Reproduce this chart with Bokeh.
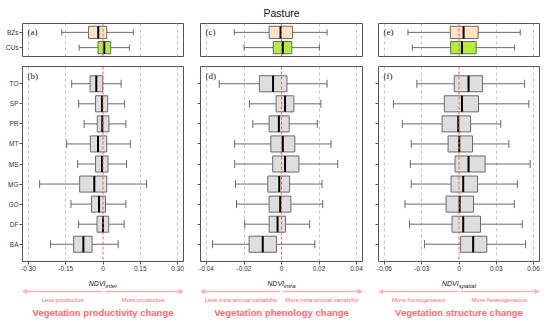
from bokeh.plotting import figure
from bokeh.layouts import column, row
from bokeh.models import Range1d, FixedTicker, Span, Arrow, NormalHead
from bokeh.core.properties import value
from bokeh.embed import file_html
from bokeh.resources import INLINE

# ---------------- data ----------------
top_cats = ["BZs", "CUs"]                       # top to bottom
cats = ["TO", "SP", "PR", "MT", "MS", "MG", "GO", "DF", "BA"]   # top to bottom

# NDVI inter
inter_top_low = [-0.166, -0.096]
inter_top_q1 = [-0.058, -0.020]
inter_top_med = [-0.019, 0.005]
inter_top_q3 = [0.015, 0.031]
inter_top_up = [0.122, 0.106]

inter_low = [-0.126, -0.098, -0.076, -0.146, -0.102, -0.255, -0.129, -0.098, -0.211]
inter_q1 = [-0.052, -0.030, -0.023, -0.051, -0.030, -0.094, -0.046, -0.024, -0.118]
inter_med = [-0.027, -0.004, -0.003, -0.020, -0.004, -0.035, -0.016, 0.000, -0.079]
inter_q3 = [-0.001, 0.019, 0.024, 0.015, 0.020, 0.015, 0.010, 0.023, -0.044]
inter_up = [0.073, 0.087, 0.092, 0.110, 0.095, 0.175, 0.092, 0.085, 0.061]

# NDVI intra
intra_top_low = [-0.0252, -0.0200]
intra_top_q1 = [-0.0066, -0.0044]
intra_top_med = [-0.0005, 0.0007]
intra_top_q3 = [0.0059, 0.0055]
intra_top_up = [0.0243, 0.0202]

intra_low = [-0.0332, -0.0171, -0.0153, -0.0250, -0.0250, -0.0245, -0.0240, -0.0196, -0.0368]
intra_q1 = [-0.0118, -0.0029, -0.0066, -0.0057, -0.0047, -0.0073, -0.0066, -0.0066, -0.0173]
intra_med = [-0.0045, 0.0019, -0.0014, 0.0007, 0.0019, -0.0012, -0.0007, -0.0021, -0.0100]
intra_q3 = [0.0029, 0.0066, 0.0041, 0.0071, 0.0093, 0.0043, 0.0050, 0.0021, -0.0027]
intra_up = [0.0243, 0.0210, 0.0191, 0.0264, 0.0300, 0.0216, 0.0220, 0.0150, 0.0178]

# NDVI spatial
spatial_top_low = [-0.0411, -0.0376]
spatial_top_q1 = [-0.0070, -0.0067]
spatial_top_med = [0.0037, 0.0024]
spatial_top_q3 = [0.0154, 0.0138]
spatial_top_up = [0.0493, 0.0448]

spatial_low = [-0.0339, -0.0528, -0.0456, -0.0384, -0.0392, -0.0384, -0.0435, -0.0398, -0.0278]
spatial_q1 = [-0.0038, -0.0118, -0.0136, -0.0088, -0.0032, -0.0064, -0.0104, -0.0056, 0.0013]
spatial_med = [0.0077, 0.0024, -0.0006, 0.0002, 0.0077, 0.0034, 0.0005, 0.0034, 0.0114]
spatial_q3 = [0.0189, 0.0157, 0.0093, 0.0109, 0.0210, 0.0149, 0.0117, 0.0173, 0.0224]
spatial_up = [0.0528, 0.0562, 0.0336, 0.0402, 0.0573, 0.0469, 0.0445, 0.0509, 0.0536]

inter_ticks = [-0.30, -0.15, 0.0, 0.15, 0.30]
inter_tick_labels = ["-0.30", "-0.15", "0", "0.15", "0.30"]
intra_ticks = [-0.04, -0.02, 0.0, 0.02, 0.04]
intra_tick_labels = ["-0.04", "-0.02", "0", "0.02", "0.04"]
spatial_ticks = [-0.06, -0.03, 0.0, 0.03, 0.06]
spatial_tick_labels = ["-0.06", "-0.03", "0", "0.03", "0.06"]

title_text = "Pasture"
panel_tags = [("(a)", "(b)"), ("(c)", "(d)"), ("(e)", "(f)")]
sub_names = ["inter", "intra", "spatial"]
left_texts = ["Less productive", "Less intra-annual variability", "More homogeneous"]
right_texts = ["More productive", "More intra-annual variability", "More heterogeneous"]
change_texts = ["Vegetation productivity change", "Vegetation phenology change",
                "Vegetation structure change"]

# ---------------- style ----------------
FONT = "Liberation Sans"
SERIF = "Liberation Serif"
FRAME = "#555555"
BOXLINE = "#6a6a6a"
GREY_FILL = "#dedede"
TOP_FILLS = ["#ffe4c4", "#b3ee3a"]
RED = "#f06060"
PINK_TXT = "#ff6a6a"
PINK_ARROW = "#ffb0b0"

col_w = [191, 179, 178]
border_l = [22, 9, 8]
border_r = [8, 8, 9]
sub_junction = [2.5, 2.5, -0.3]
TITLE_H = 21


def style_common(p):
    p.outline_line_color = FRAME
    p.outline_line_width = 1
    p.background_fill_color = "white"
    p.border_fill_color = "white"


def style_axis(ax, standoff=1):
    ax.axis_line_color = None
    ax.major_tick_line_color = FRAME
    ax.major_tick_out = 3
    ax.major_tick_in = 0
    ax.minor_tick_line_color = None
    ax.major_label_text_font = FONT
    ax.major_label_text_font_size = "6.5px"
    ax.major_label_text_color = "#333333"
    ax.major_label_standoff = standoff


def draw_boxes(p, pos, low, q1, med, q3, up, fills):
    lo_p = [y - 0.2 for y in pos]
    hi_p = [y + 0.2 for y in pos]
    p.segment(x0=low, y0=pos, x1=q1, y1=pos, line_color=BOXLINE, line_width=1)
    p.segment(x0=q3, y0=pos, x1=up, y1=pos, line_color=BOXLINE, line_width=1)
    p.segment(x0=low, y0=lo_p, x1=low, y1=hi_p, line_color=BOXLINE, line_width=1)
    p.segment(x0=up, y0=lo_p, x1=up, y1=hi_p, line_color=BOXLINE, line_width=1)
    p.hbar(y=pos, left=q1, right=q3, height=0.8, fill_color=fills,
           line_color=BOXLINE, line_width=1)
    p.add_layout(Span(location=0, dimension="height", line_color=RED,
                      line_dash="3 2", line_width=1))
    p.segment(x0=med, y0=[y - 0.4 for y in pos], x1=med, y1=[y + 0.4 for y in pos],
              line_color="black", line_width=2)


def grid_lines(p, ticks):
    p.xgrid.ticker = FixedTicker(ticks=[t for t in ticks if t != 0])
    p.xgrid.grid_line_color = "#c4c4c4"
    p.xgrid.grid_line_dash = "3 3"
    p.xgrid.grid_line_width = 1
    p.ygrid.grid_line_color = None


def build_column(i, ticks, tick_labels, top_data, data):
    R = ticks[-1] * 1.08
    xr = Range1d(-R, R)
    w = col_w[i]

    # --- top panel (a/c/e)
    pos_top = [2, 1]
    pa = figure(width=w, height=40, x_range=xr, y_range=Range1d(0.42, 2.58),
                output_backend="svg", toolbar_location=None,
                min_border_left=border_l[i], min_border_right=border_r[i],
                min_border_top=2, min_border_bottom=5,
                y_axis_location="left" if i == 0 else None)
    style_common(pa)
    pa.xaxis.visible = False
    grid_lines(pa, ticks)
    if i == 0:
        ax = pa.yaxis[0]
        ax.ticker = FixedTicker(ticks=pos_top)
        ax.major_label_overrides = {pos_top[k]: top_cats[k] for k in range(2)}
        style_axis(ax)
    draw_boxes(pa, pos_top, *top_data, TOP_FILLS)
    pa.text(x=[-R], y=[2.58], text=[panel_tags[i][0]], x_offset=5, y_offset=3,
            text_font=value(SERIF), text_font_size="9px", text_color="#222222",
            text_baseline="top", text_align="left")

    # --- main panel (b/d/f)
    pos = list(range(len(cats), 0, -1))
    pb = figure(width=w, height=214, x_range=xr, y_range=Range1d(0.14, 9.86),
                output_backend="svg", toolbar_location=None,
                min_border_left=border_l[i], min_border_right=border_r[i],
                min_border_top=5, min_border_bottom=14)
    style_common(pb)
    grid_lines(pb, ticks)
    xa = pb.xaxis[0]
    xa.ticker = FixedTicker(ticks=ticks)
    xa.major_label_overrides = {ticks[k]: tick_labels[k] for k in range(len(ticks))}
    ya = pb.yaxis[0]
    ya.ticker = FixedTicker(ticks=pos)
    ya.major_label_overrides = {pos[k]: (cats[k] if i == 0 else "") for k in range(len(cats))}
    style_axis(xa)
    style_axis(ya, 1 if i == 0 else 0)
    draw_boxes(pb, pos, *data, GREY_FILL)
    pb.text(x=[-R], y=[9.86], text=[panel_tags[i][1]], x_offset=5, y_offset=4,
            text_font=value(SERIF), text_font_size="9px", text_color="#222222",
            text_baseline="top", text_align="left")

    # --- annotation panel below
    pc = figure(width=w, height=50, x_range=xr, y_range=Range1d(50, 0),
                output_backend="svg", toolbar_location=None,
                min_border_left=border_l[i], min_border_right=border_r[i],
                min_border_top=0, min_border_bottom=0,
                x_axis_location=None, y_axis_location=None)
    pc.outline_line_color = None
    pc.xgrid.grid_line_color = None
    pc.ygrid.grid_line_color = None
    pc.text(x=[0], y=[8], text=["NDVI"], x_offset=sub_junction[i],
            text_font=value(FONT), text_font_style="italic", text_font_size="7px",
            text_color="#222222", text_align="right", text_baseline="middle")
    pc.text(x=[0], y=[8], text=[sub_names[i]], x_offset=sub_junction[i], y_offset=2.5,
            text_font=value(FONT), text_font_style="italic", text_font_size="6px",
            text_color="#222222", text_align="left", text_baseline="middle")
    gap = R * 0.02
    edge = R * 0.995
    for xs, xe in ((-gap, -edge), (gap, edge)):
        pc.add_layout(Arrow(x_start=xs, y_start=16, x_end=xe, y_end=16,
                            line_color=PINK_ARROW, line_width=1.5,
                            end=NormalHead(size=4, fill_color=PINK_ARROW,
                                           line_color=PINK_ARROW)))
    pc.text(x=[-R / 2, R / 2], y=[24, 24], text=[left_texts[i], right_texts[i]],
            text_font=value(FONT), text_font_size="6px", text_color=PINK_TXT,
            text_align="center", text_baseline="middle")
    pc.text(x=[0], y=[37], text=[change_texts[i]],
            text_font=value(FONT), text_font_style="bold", text_font_size="9.5px",
            text_color=PINK_TXT, text_align="center", text_baseline="middle")
    return column(pa, pb, pc, spacing=0)


c1 = build_column(0, inter_ticks, inter_tick_labels,
                  (inter_top_low, inter_top_q1, inter_top_med, inter_top_q3, inter_top_up),
                  (inter_low, inter_q1, inter_med, inter_q3, inter_up))
c2 = build_column(1, intra_ticks, intra_tick_labels,
                  (intra_top_low, intra_top_q1, intra_top_med, intra_top_q3, intra_top_up),
                  (intra_low, intra_q1, intra_med, intra_q3, intra_up))
c3 = build_column(2, spatial_ticks, spatial_tick_labels,
                  (spatial_top_low, spatial_top_q1, spatial_top_med, spatial_top_q3, spatial_top_up),
                  (spatial_low, spatial_q1, spatial_med, spatial_q3, spatial_up))

total_w = sum(col_w)
pt = figure(width=total_w, height=TITLE_H, x_range=Range1d(0, total_w),
            y_range=Range1d(TITLE_H, 0),
            output_backend="svg", toolbar_location=None,
            min_border_left=0, min_border_right=0, min_border_top=0, min_border_bottom=0,
            x_axis_location=None, y_axis_location=None)
pt.outline_line_color = None
pt.xgrid.grid_line_color = None
pt.ygrid.grid_line_color = None
pt.text(x=[col_w[0] + border_l[1] + (col_w[1] - border_l[1] - border_r[1]) / 2], y=[6],
        text=[title_text], text_font=value(FONT), text_font_size="10.5px",
        text_color="#111111", text_align="center", text_baseline="top")

p = column(pt, row(c1, c2, c3, spacing=0), spacing=0)

open("out.html", "w").write(file_html(p, INLINE))
